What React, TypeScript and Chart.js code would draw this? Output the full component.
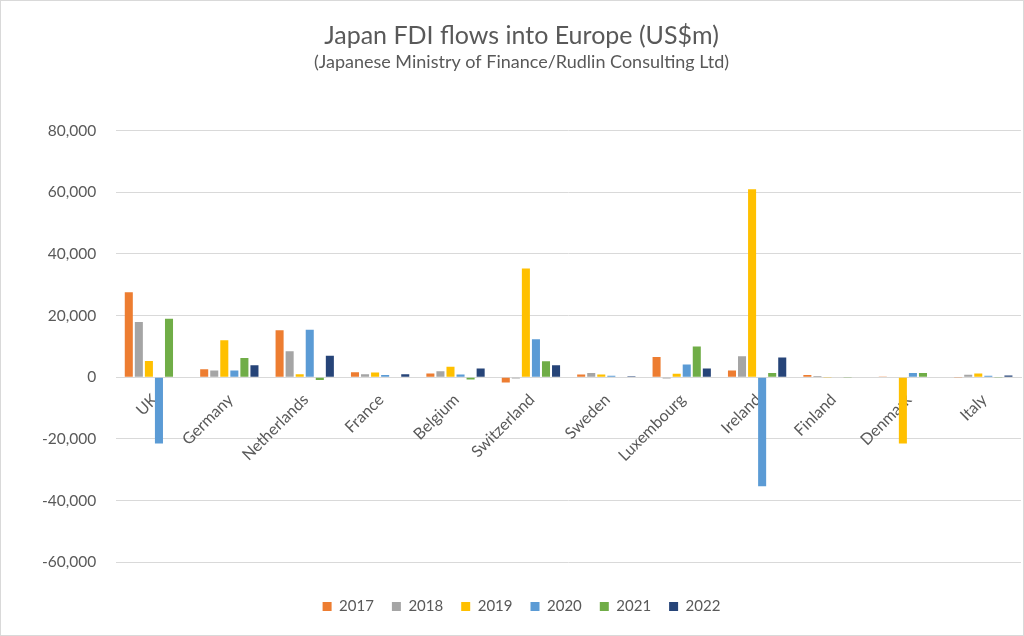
import { useEffect, useRef } from "react"
import { Chart, registerables } from "chart.js"

Chart.register(...registerables)

const countries = [
  "UK", "Germany", "Netherlands", "France", "Belgium", "Switzerland",
  "Sweden", "Luxembourg", "Ireland", "Finland", "Denmark", "Italy",
]

const fdi2017 = [27600, 2600, 15200, 1600, 1200, -1700, 900, 6600, 2200, 700, 200, -100]
const fdi2018 = [17900, 2200, 8400, 1000, 1900, -400, 1400, -400, 6800, 400, 0, 800]
const fdi2019 = [5300, 12000, 1000, 1500, 3400, 35300, 900, 1100, 61000, -100, -21500, 1200]
const fdi2020 = [-21500, 2200, 15400, 700, 900, 12300, 500, 4100, -35400, 0, 1400, 500]
const fdi2021 = [19000, 6200, -900, -200, -700, 5200, 0, 10000, 1400, -100, 1400, -100]
const fdi2022 = [-200, 3900, 7000, 1000, 2800, 3900, 300, 2800, 6400, 0, 0, 600]

const yTicks = [80000, 60000, 40000, 20000, 0, -20000, -40000, -60000]

const font = "Lato, 'Open Sans', sans-serif"
const grey = "#595959"

export default function App() {
  const chartRef = useRef<HTMLCanvasElement>(null)
  const chartInstance = useRef<Chart | null>(null)

  useEffect(() => {
    document.body.style.margin = "0"
    if (chartRef.current) {
      if (chartInstance.current) {
        chartInstance.current.destroy()
      }

      const series = [
        { label: "2017", data: fdi2017, color: "#ED7D31" },
        { label: "2018", data: fdi2018, color: "#A5A5A5" },
        { label: "2019", data: fdi2019, color: "#FFC000" },
        { label: "2020", data: fdi2020, color: "#5B9BD5" },
        { label: "2021", data: fdi2021, color: "#70AD47" },
        { label: "2022", data: fdi2022, color: "#264478" },
      ]

      chartInstance.current = new Chart(chartRef.current, {
        type: "bar",
        data: {
          labels: countries,
          datasets: series.map((s) => ({
            label: s.label,
            data: s.data,
            backgroundColor: s.color,
            borderWidth: 0,
            categoryPercentage: 0.8,
            barPercentage: 0.8,
          })),
        },
        options: {
          responsive: true,
          maintainAspectRatio: false,
          animation: false,
          layout: { padding: { left: 21, right: 2, top: 0, bottom: 11 } },
          plugins: {
            title: {
              display: true,
              text: "Japan FDI flows into Europe (US$m)",
              color: grey,
              font: { family: font, size: 25, weight: "normal" },
              padding: { top: 20, bottom: 0 },
            },
            subtitle: {
              display: true,
              text: "(Japanese Ministry of Finance/Rudlin Consulting Ltd)",
              color: grey,
              font: { family: font, size: 18 },
              padding: { bottom: 58 },
            },
            legend: {
              position: "bottom",
              // invisible title only adds the gap between plot and legend
              title: {
                display: true,
                text: " ",
                font: { size: 4 },
                padding: { top: 0, bottom: 14 },
              },
              labels: {
                boxWidth: 9,
                boxHeight: 9,
                padding: 18,
                color: grey,
                font: { family: font, size: 15 },
              },
            },
            tooltip: { enabled: false },
          },
          scales: {
            y: {
              min: -60000,
              max: 80000,
              afterBuildTicks: (axis) => {
                axis.ticks = yTicks.map((v) => ({ value: v }))
              },
              grid: { color: "#d9d9d9", drawTicks: false },
              border: { display: false },
              ticks: {
                padding: 20,
                color: grey,
                font: { family: font, size: 15.5 },
                callback: (v) => Number(v).toLocaleString("en-US"),
              },
            },
            x: {
              position: { y: 0 },
              afterFit: (axis) => {
                // rotated first label should not push the bars right
                axis.paddingLeft = 0
                axis.paddingRight = 0
              },
              grid: { display: false, drawTicks: false },
              border: { color: "#d9d9d9" },
              ticks: {
                minRotation: 45,
                maxRotation: 45,
                padding: 13,
                labelOffset: 1,
                color: grey,
                font: { family: font, size: 16 },
              },
            },
          },
        },
      })
    }

    return () => {
      if (chartInstance.current) {
        chartInstance.current.destroy()
        chartInstance.current = null
      }
    }
  }, [])

  return (
    <div
      style={{
        width: 1024,
        height: 636,
        boxSizing: "border-box",
        border: "1px solid #d9d9d9",
        position: "relative",
        background: "#fff",
      }}
    >
      <canvas ref={chartRef} />
    </div>
  )
}
